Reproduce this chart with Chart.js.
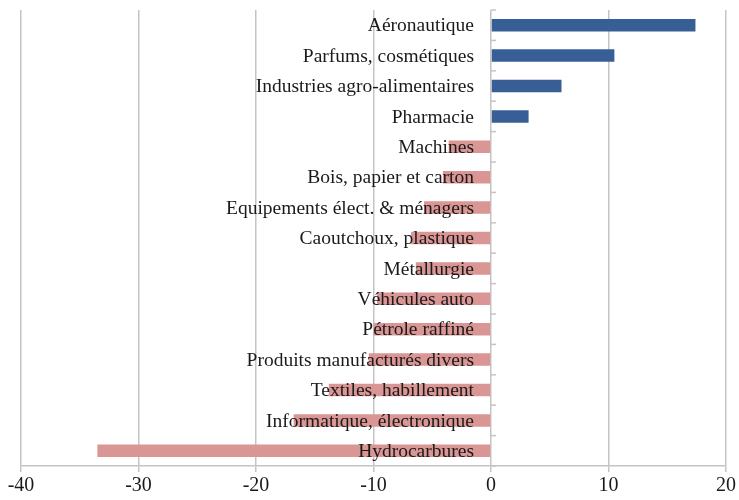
<!DOCTYPE html>
<html>
<head>
<meta charset="utf-8">
<script src="https://cdn.jsdelivr.net/npm/chart.js@4/dist/chart.umd.min.js"></script>
<style>
  html, body { margin: 0; padding: 0; background: #fff; }
  #wrap { width: 739px; height: 500px; }
</style>
</head>
<body>
<div id="wrap"><canvas id="chart" width="739" height="500"></canvas></div>
<script>
const categories = [
  'Aéronautique',
  'Parfums, cosmétiques',
  'Industries agro-alimentaires',
  'Pharmacie',
  'Machines',
  'Bois, papier et carton',
  'Equipements élect. & ménagers',
  'Caoutchoux, plastique',
  'Métallurgie',
  'Véhicules auto',
  'Pétrole raffiné',
  'Produits manufacturés divers',
  'Textiles, habillement',
  'Informatique, électronique',
  'Hydrocarbures'
];
const values = [17.4, 10.5, 6.0, 3.2, -3.6, -4.1, -5.7, -6.8, -6.4, -9.7, -10.0, -10.4, -13.8, -16.8, -33.5];
const xTicks = [-40, -30, -20, -10, 0, 10, 20];

const BLUE = '#385f95';
const PINK = '#d99694';
const GRID = '#c4c4c4';
const SERIF = '"Liberation Serif", "DejaVu Serif", serif';

// labels sit just left of the zero line, drawn over the bars
const zeroAxisLabels = {
  id: 'zeroAxisLabels',
  afterDatasetsDraw(chart) {
    const { ctx, scales: { x, y } } = chart;
    const x0 = x.getPixelForValue(0);
    ctx.save();
    // small category ticks on the right of the zero line
    ctx.strokeStyle = GRID;
    ctx.lineWidth = 1.5;
    for (let i = 0; i <= categories.length; i++) {
      const yy = y.getPixelForValue(i - 0.5);
      ctx.beginPath();
      ctx.moveTo(x0, yy);
      ctx.lineTo(x0 + 5, yy);
      ctx.stroke();
    }
    ctx.fillStyle = '#1a1a1a';
    ctx.font = '19.5px ' + SERIF;
    ctx.textAlign = 'right';
    ctx.textBaseline = 'middle';
    categories.forEach((c, i) => {
      ctx.fillText(c, x0 - 17, y.getPixelForValue(i) + 1);
    });
    ctx.restore();
  }
};

new Chart(document.getElementById('chart'), {
  type: 'bar',
  data: {
    labels: categories,
    datasets: [{
      data: values,
      backgroundColor: values.map(v => v >= 0 ? BLUE : PINK),
      borderWidth: 0,
      categoryPercentage: 1,
      barPercentage: 0.41
    }]
  },
  options: {
    indexAxis: 'y',
    responsive: false,
    animation: false,
    layout: { padding: { left: 21, right: 6, top: 10, bottom: 0 } },
    plugins: { legend: { display: false }, tooltip: { enabled: false } },
    scales: {
      x: {
        min: -40,
        max: 20,
        afterBuildTicks: axis => { axis.ticks = xTicks.map(v => ({ value: v })); },
        grid: { color: GRID, lineWidth: 1.5, tickLength: 6 },
        border: { color: GRID, width: 1.5 },
        ticks: { color: '#1a1a1a', font: { family: SERIF, size: 20, lineHeight: 1.1 }, padding: 3 }
      },
      y: { display: false }
    }
  },
  plugins: [zeroAxisLabels]
});
</script>
</body>
</html>
